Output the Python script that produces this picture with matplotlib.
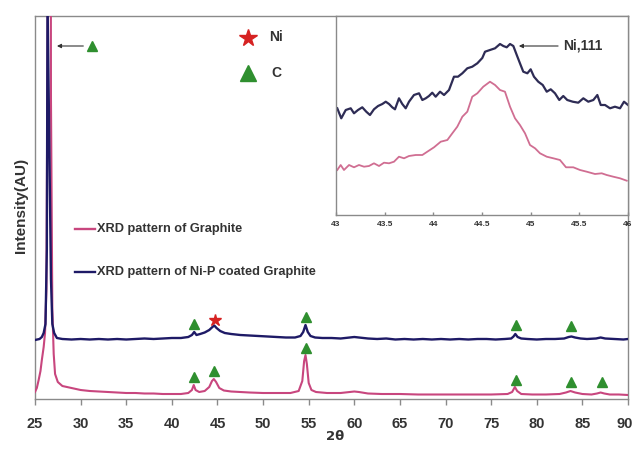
import matplotlib
matplotlib.use("Agg")
import matplotlib.pyplot as plt
from matplotlib.transforms import ScaledTranslation

plt.rcParams['font.family'] = ['Liberation Sans', 'DejaVu Sans']

# ---------------- main pattern data ----------------
nip_2theta = [25.0, 25.5, 25.75, 25.95, 26.15, 26.3, 26.4, 26.5, 26.6, 26.75, 26.9, 27.1, 27.4,
              28, 29, 30, 31, 32, 33, 34, 35, 36, 37, 38, 39, 40, 41, 41.8, 42.2, 42.45, 42.7,
              43.1, 43.6, 44.1, 44.45, 44.65, 44.9, 45.3, 45.8, 46.5, 47.5, 48.5, 49.5, 50.5,
              51.5, 52.5, 53.5, 54.1, 54.4, 54.65, 54.9, 55.2, 55.7, 56.5, 57.5, 58.5, 59.5,
              60.0, 60.5, 61.5, 62.5, 63.5, 64.5, 65.5, 66.5, 67.5, 68.5, 69.5, 70.5, 71.5,
              72.5, 73.5, 74.5, 75.5, 76.5, 77.2, 77.45, 77.65, 77.9, 78.3, 79, 80, 81, 82,
              83, 83.5, 83.8, 84.2, 84.8, 85.5, 86.5, 87.0, 87.5, 88.5, 89.5, 90]
nip_intensity = [59, 60, 62, 66, 75, 150, 500, 1500, 400, 120, 75, 66, 61,
                 60, 59.5, 60, 59.5, 60, 59.5, 60, 59.5, 60, 60.5, 60, 60.5, 61, 61, 62, 64, 67, 64,
                 65, 66.5, 69, 72, 73.5, 71, 68, 66, 65, 64, 63.5, 63, 62.5,
                 62, 61.5, 61.5, 63, 67, 74, 67, 63, 61.5, 61, 61, 60.5, 61.5,
                 62, 61.5, 60.5, 60, 60.5, 59.5, 60, 59.5, 60, 59.5, 60, 59.5, 60,
                 59.5, 60, 60, 59.5, 60, 60.5, 62.5, 65, 62, 60.5, 60, 59.5, 60, 60,
                 60.5, 62, 62.5, 61.5, 60.5, 60, 60.5, 61.5, 60.5, 60, 59.5, 60]

gr_2theta = [25.0, 25.2, 25.4, 25.6, 25.75, 25.95, 26.1, 26.25, 26.4, 26.5, 26.6, 26.75, 26.9,
             27.05, 27.2, 27.5, 28.0, 29, 30, 31, 32, 33, 34, 35, 36, 37, 38, 39, 40, 41, 41.8,
             42.2, 42.4, 42.6, 43.0, 43.6, 44.1, 44.4, 44.6, 44.85, 45.2, 45.7, 46.5, 47.5,
             48.5, 50, 51.5, 53, 53.9, 54.3, 54.5, 54.65, 54.8, 55.0, 55.3, 55.8, 57, 58.5,
             59.5, 60.0, 60.5, 61.5, 63, 65, 67, 70, 73, 75, 76.8, 77.3, 77.6, 77.85, 78.3,
             79.5, 81, 82.5, 83.2, 83.7, 84.2, 85, 86, 86.6, 87.0, 87.4, 88, 89, 90]
gr_intensity = [7, 11, 19, 28, 39, 52, 66, 110, 400, 1500, 1500, 300, 90,
                45, 25, 17, 13, 11, 9, 8, 7.5, 7, 6.5, 6, 6, 5.5, 5.5, 5, 5, 5, 6,
                9, 14, 9, 7, 8, 12, 18, 20, 17, 11, 8.5, 7.5, 7,
                6.5, 6, 6, 6, 8, 18, 38, 44, 35, 16, 9, 7, 6, 6,
                7, 7.5, 7, 5.5, 5, 5, 4.5, 4.5, 4.5, 4.5, 5, 7, 12, 8, 5,
                4.5, 4.5, 5, 6.5, 8, 6.5, 5, 4.5, 5.5, 6.5, 5.5, 4.5, 4.5, 4]

# phase markers
c_marker_2theta = [42.4, 54.7, 77.7, 83.8, 42.4, 44.6, 54.7, 77.7, 83.8, 87.1]
c_marker_int = [75, 82, 74, 73, 22, 28, 51, 19, 17, 17]
ni_marker_2theta = [44.7]
ni_marker_int = [79]

# ---------------- inset data (Ni 111 region) ----------------
inset_nip_2theta = [43.013, 43.054, 43.100, 43.151, 43.185, 43.226, 43.270, 43.311, 43.349, 43.390,
                    43.432, 43.476, 43.511, 43.545, 43.578, 43.606, 43.647, 43.681, 43.716, 43.750,
                    43.801, 43.853, 43.887, 43.922, 43.955, 43.989, 44.024, 44.069, 44.110, 44.161,
                    44.212, 44.253, 44.298, 44.349, 44.400, 44.452, 44.503, 44.531, 44.582, 44.634,
                    44.685, 44.719, 44.754, 44.788, 44.822, 44.857, 44.890, 44.924, 44.966, 45.000,
                    45.034, 45.078, 45.124, 45.165, 45.206, 45.250, 45.294, 45.335, 45.376, 45.432,
                    45.489, 45.541, 45.592, 45.644, 45.685, 45.720, 45.764, 45.815, 45.866, 45.918,
                    45.959, 46.0]
inset_nip_int = [106.7, 96.7, 105, 106.7, 101.7, 105, 107.7, 103.3, 100, 105.7,
                 109, 111, 113.3, 111, 107.7, 105.7, 116.7, 111, 106.7, 113.3,
                 120, 121.7, 115, 116.7, 119, 122.3, 118.3, 123.3, 120, 125,
                 138.3, 138.3, 141.7, 146.7, 148.3, 151.7, 157, 163.3, 165, 166.7,
                 171, 169, 167.7, 171, 169, 160, 151.7, 143.3, 141.7, 145.7,
                 138.3, 133.3, 130, 123.3, 125.7, 121.7, 115, 119, 115, 113.3,
                 112.3, 116.7, 113.3, 115, 120, 110, 110, 106.7, 108.3, 106.7,
                 113.3, 110]

inset_gr_2theta = [43.013, 43.048, 43.082, 43.134, 43.185, 43.236, 43.288, 43.339, 43.390, 43.442,
                   43.493, 43.545, 43.596, 43.647, 43.699, 43.750, 43.819, 43.887, 43.938, 44.007,
                   44.076, 44.144, 44.195, 44.246, 44.298, 44.349, 44.400, 44.452, 44.513, 44.582,
                   44.634, 44.685, 44.736, 44.788, 44.839, 44.890, 44.942, 44.993, 45.045, 45.096,
                   45.165, 45.233, 45.301, 45.363, 45.438, 45.507, 45.576, 45.661, 45.730, 45.781,
                   45.849, 45.918, 45.987]
inset_gr_int = [45, 50, 45, 50, 47.7, 50, 48.3, 49, 51.7, 49,
                52.3, 51.7, 53.3, 58.3, 56.7, 59, 60, 60, 63.3, 67.7,
                73.3, 75, 81.7, 88.3, 98.3, 103.3, 118.3, 121.7, 128.3, 133.3,
                130, 125, 123.3, 108.3, 96.7, 90, 81.7, 70, 66.7, 61.7,
                58.3, 56.7, 55, 47.7, 47.7, 45, 43.3, 41, 41.7, 40,
                38.3, 36.7, 34.3]

main_xticks = [25, 30, 35, 40, 45, 50, 55, 60, 65, 70, 75, 80, 85, 90]
inset_xticks = [43, 43.5, 44, 44.5, 45, 45.5, 46]
inset_xticklabels = ['43', '43.5', '44', '44.5', '45', '45.5', '46']

series_labels = ['XRD pattern of Graphite', 'XRD pattern of Ni-P coated Graphite']

PINK = '#c8467e'
NAVY = '#1e1a66'
GREEN = '#2f8f2f'
RED = '#d62222'
SPINE = '#8a8a8a'
TXT = '#333333'

W, H = 634, 449
fig = plt.figure(figsize=(W / 100, H / 100), dpi=100)
fig.patch.set_facecolor('white')

ax = fig.add_axes([35 / W, 1 - 399 / H, 593 / W, 383 / H])
ax.plot(gr_2theta, gr_intensity, color=PINK, lw=1.5, zorder=3)
ax.plot(nip_2theta, nip_intensity, color=NAVY, lw=1.7, zorder=4)
ax.plot(c_marker_2theta, c_marker_int, ls='none', marker='^', ms=6.5, color=GREEN, zorder=5)
ax.plot(ni_marker_2theta, ni_marker_int, ls='none', marker='*', ms=9, color=RED, zorder=5)

ax.set_xlim(25, 90)
ax.set_ylim(0, 383)
ax.set_yticks([])
ax.set_xticks(main_xticks)
ax.set_xticklabels([str(t) for t in main_xticks], fontsize=10.5, fontweight='bold', color=TXT)
ax.tick_params(axis='x', direction='out', length=4, width=1, color=SPINE, pad=9)
last = ax.get_xticklabels()[-1]
last.set_transform(last.get_transform() + ScaledTranslation(-3 / 100, 0, fig.dpi_scale_trans))
for s in ax.spines.values():
    s.set_color(SPINE)
    s.set_linewidth(1)

fig.text(335 / W, 1 - 437 / H, '2θ', ha='center', va='center', fontsize=9.5,
         fontweight='bold', color=TXT, family=['DejaVu Sans'])
fig.text(21 / W, 1 - 205 / H, 'Intensity(AU)', rotation=90, ha='center', va='center',
         fontsize=11, fontweight='bold', color=TXT)

# symbol legend
ax.plot([48.3], [361], marker='*', ms=13, color=RED, ls='none', zorder=6)
ax.plot([48.3], [326], marker='^', ms=11, color=GREEN, ls='none', zorder=6)
ax.text(50.7, 362, 'Ni', fontsize=10, fontweight='bold', color=TXT, va='center', ha='left')
ax.text(50.9, 326, 'C', fontsize=10, fontweight='bold', color=TXT, va='center', ha='left')

# line legend
trA = ax.transAxes
for lbl, col, yy in [(series_labels[0], PINK, 1 - (229 - 16) / 383),
                     (series_labels[1], NAVY, 1 - (272 - 16) / 383)]:
    ax.plot([(75 - 35) / 593, (95 - 35) / 593], [yy, yy], color=col, lw=1.7,
            transform=trA, zorder=6)
    ax.text((97 - 35) / 593, yy, lbl, transform=trA, fontsize=9.2, fontweight='bold',
            color=TXT, va='center', ha='left')

# arrow toward the main graphite peak
ax.plot([31.25], [353], marker='^', ms=7, color=GREEN, ls='none', zorder=6)
ax.annotate('', xy=(27.1, 353), xytext=(30.6, 353),
            arrowprops=dict(arrowstyle='-|>', color='#333333', lw=0.8,
                            mutation_scale=6), zorder=6)

# ---------------- inset ----------------
axi = fig.add_axes([336 / W, 1 - 215 / H, 292 / W, 199 / H])
axi.set_facecolor('white')
axi.plot(inset_gr_2theta, inset_gr_int, color='#d06e92', lw=1.3)
axi.plot(inset_nip_2theta, inset_nip_int, color='#2e2c55', lw=1.6)
axi.set_xlim(43, 46)
axi.set_ylim(0, 199)
axi.set_yticks([])
axi.set_xticks(inset_xticks)
axi.set_xticklabels(inset_xticklabels, fontsize=6, fontweight='bold', color=TXT)
axi.tick_params(axis='x', direction='in', length=2.5, width=1, color=SPINE, pad=4)
for s in axi.spines.values():
    s.set_color(SPINE)
    s.set_linewidth(1)
axi.annotate('', xy=(44.85, 169), xytext=(45.31, 169),
             arrowprops=dict(arrowstyle='-|>', color='#333333', lw=0.8, mutation_scale=6))
axi.text(45.33, 169, 'Ni,111', fontsize=10, fontweight='bold', color=TXT,
         va='center', ha='left')

fig.savefig('out.png', dpi=100, facecolor='white')
